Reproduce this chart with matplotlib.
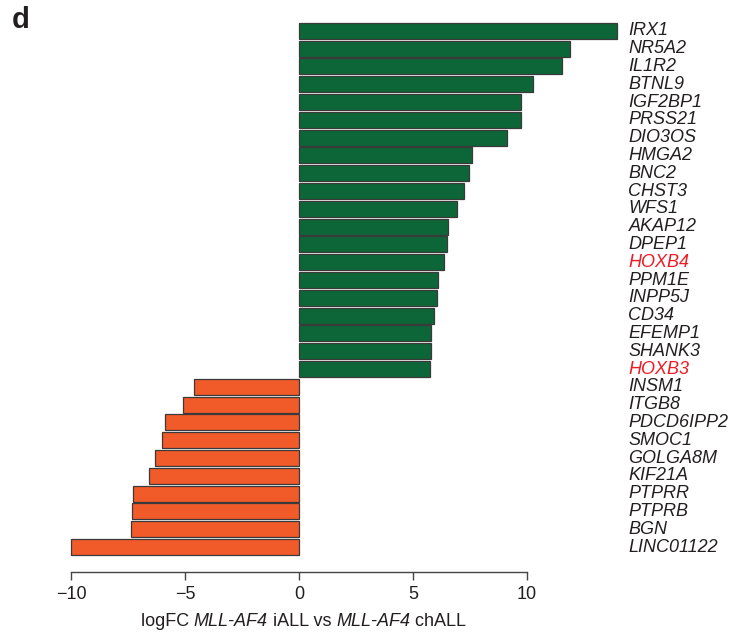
import matplotlib
matplotlib.use("Agg")
import matplotlib.pyplot as plt

plt.rcParams['font.family'] = ['Liberation Sans', 'DejaVu Sans']

genes = ["IRX1", "NR5A2", "IL1R2", "BTNL9", "IGF2BP1", "PRSS21", "DIO3OS", "HMGA2",
         "BNC2", "CHST3", "WFS1", "AKAP12", "DPEP1", "HOXB4", "PPM1E", "INPP5J",
         "CD34", "EFEMP1", "SHANK3", "HOXB3", "INSM1", "ITGB8", "PDCD6IPP2", "SMOC1",
         "GOLGA8M", "KIF21A", "PTPRR", "PTPRB", "BGN", "LINC01122"]
logfc = [13.93, 11.87, 11.54, 10.25, 9.75, 9.72, 9.12, 7.57, 7.47, 7.22, 6.92,
         6.55, 6.50, 6.37, 6.10, 6.05, 5.92, 5.80, 5.78, 5.73,
         -4.61, -5.08, -5.89, -6.02, -6.32, -6.57, -7.30, -7.32, -7.36, -9.98]
highlight = ["HOXB4", "HOXB3"]
xticks = [-10, -5, 0, 5, 10]
xlabel_parts = [("logFC ", "normal"), ("MLL-AF4", "italic"), (" iALL vs ", "normal"),
                ("MLL-AF4", "italic"), (" chALL", "normal")]

GREEN = "#0c6638"
ORANGE = "#f15a29"
TEXT = "#231f20"
RED = "#ed1c24"
FS = 13

fig = plt.figure(figsize=(7.41, 6.41), dpi=100)
ax = fig.add_axes([59.6 / 741, 1 - 572 / 641, 570 / 741, 551.8 / 641])

ypos = list(range(len(genes)))
colors = [GREEN if v > 0 else ORANGE for v in logfc]
ax.barh(ypos, logfc, height=0.9, color=colors, edgecolor="#3a3a3a", linewidth=0.9)

for y, g in zip(ypos, genes):
    ax.text(14.45, y, g, ha="left", va="center", fontsize=FS, style="italic",
            color=RED if g in highlight else TEXT)

ax.set_xlim(-10.5, 14.5)
ax.set_ylim(30.4, -0.6)
for s in ["top", "right", "left"]:
    ax.spines[s].set_visible(False)
ax.spines["bottom"].set_bounds(-10, 10)
ax.spines["bottom"].set_color("#444444")
ax.spines["bottom"].set_linewidth(1.0)
ax.set_yticks([])
ax.set_xticks(xticks)
ax.set_xticklabels(["\u2212" + str(abs(t)) if t < 0 else str(t) for t in xticks])
ax.tick_params(axis="x", direction="out", length=6, width=1.0, color="#444444",
               labelsize=FS, labelcolor=TEXT, pad=4)

# x-axis label with mixed italic pieces, centred near x = 0
renderer = fig.canvas.get_renderer()
pieces = []
for txt, st in xlabel_parts:
    t = fig.text(0, 1 - 622 / 641, txt, fontsize=FS, style=st, color=TEXT,
                 ha="left", va="center")
    pieces.append(t)
widths = [p.get_window_extent(renderer).width for p in pieces]
total = sum(widths)
cx = ax.transData.transform((0.2, 0))[0]
x = cx - total / 2
for p, w in zip(pieces, widths):
    p.set_x(x / fig.bbox.width)
    x += w

fig.text(12 / 741, 1 - 20 / 641, "d", fontsize=21, fontweight="bold", color=TEXT,
         ha="left", va="center")

fig.savefig("out.png", dpi=100)
